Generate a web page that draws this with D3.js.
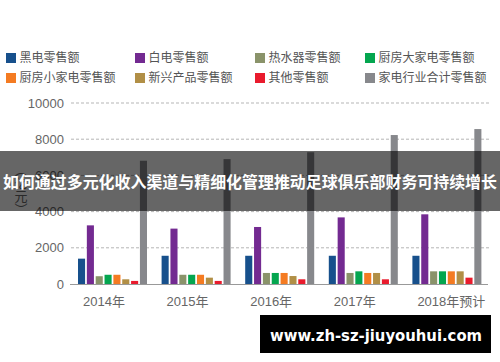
<!DOCTYPE html>
<html>
<head>
<meta charset="utf-8">
<script src="https://cdn.jsdelivr.net/npm/d3@7"></script>
<style>
  body { margin: 0; background: #fff; }
  svg { display: block; font-family: "Liberation Sans", "Noto Sans CJK SC", sans-serif; }
</style>
</head>
<body>
<div id="chart"></div>
<script>
// categories on the x axis
const years = ['2014年', '2015年', '2016年', '2017年', '2018年预计']

// series names (legend order)
const seriesNames = ['黑电零售额', '白电零售额', '热水器零售额', '厨房大家电零售额',
    '厨房小家电零售额', '新兴产品零售额', '其他零售额', '家电行业合计零售额']

// values per series, in 亿元, one per year
const blackAppliances = [1400, 1560, 1560, 1560, 1560]
const whiteAppliances = [3240, 3060, 3150, 3680, 3850]
const waterHeaters = [430, 510, 610, 610, 700]
const kitchenLarge = [510, 510, 610, 700, 700]
const kitchenSmall = [510, 510, 610, 610, 700]
const emerging = [260, 350, 440, 610, 700]
const others = [170, 170, 260, 260, 350]
const industryTotal = [6810, 6900, 7280, 8230, 8560]

const seriesValues = [blackAppliances, whiteAppliances, waterHeaters, kitchenLarge,
    kitchenSmall, emerging, others, industryTotal]

const yTicks = [0, 2000, 4000, 6000, 8000, 10000]

const colors = ['#17508c', '#732a91', '#8a936a', '#04a64f', '#f47b22', '#b18f46', '#e91b2d', '#87888c']

const width = 500
const height = 362

const svg = d3.select('#chart')
    .append('svg')
    .attr('width', width)
    .attr('height', height)

// legend, 4 columns x 2 rows
const legendCols = [6, 135, 255, 365]
const legend = svg.selectAll('g.legend')
    .data(seriesNames)
    .enter()
    .append('g')
    .attr('class', 'legend')
    .attr('transform', (d, i) => `translate(${legendCols[i % 4]}, ${53 + Math.floor(i / 4) * 20})`)

legend.append('rect')
    .attr('width', 10)
    .attr('height', 10)
    .style('fill', (d, i) => colors[i])

legend.append('text')
    .attr('x', 13.5)
    .attr('y', 5)
    .attr('dominant-baseline', 'central')
    .style('font-size', '12px')
    .style('fill', '#555')
    .text(d => d)

// scales
const x0 = d3.scaleBand()
    .domain(years)
    .range([70, 488])

const x1 = d3.scaleBand()
    .domain(seriesNames)
    .range([8, 77])
    .paddingInner(0.2)

const y = d3.scaleLinear()
    .domain([0, 10000])
    .range([284, 103])

// grid lines
svg.selectAll('line.grid')
    .data(yTicks.filter(t => t > 0))
    .enter()
    .append('line')
    .attr('class', 'grid')
    .attr('x1', 71)
    .attr('x2', 490)
    .attr('y1', d => y(d))
    .attr('y2', d => y(d))
    .style('stroke', '#b5b5b5')
    .style('stroke-width', 1)
    .style('stroke-dasharray', '3,2')

// y tick labels
svg.selectAll('text.ytick')
    .data(yTicks)
    .enter()
    .append('text')
    .attr('class', 'ytick')
    .attr('x', 64)
    .attr('y', d => y(d))
    .attr('text-anchor', 'end')
    .attr('dominant-baseline', 'central')
    .style('font-size', '13px')
    .style('fill', '#666')
    .text(d => d)

// y axis unit, vertical
svg.append('text')
    .attr('x', 20)
    .attr('y', 190)
    .attr('text-anchor', 'middle')
    .style('writing-mode', 'vertical-rl')
    .style('font-size', '13px')
    .style('fill', '#666')
    .text('（亿元）')

// bars
const groups = svg.selectAll('g.year')
    .data(years)
    .enter()
    .append('g')
    .attr('class', 'year')
    .attr('transform', d => `translate(${x0(d)}, 0)`)

groups.selectAll('rect')
    .data((d, yi) => seriesNames.map((name, si) => ({name, si, value: seriesValues[si][yi]})))
    .enter()
    .append('rect')
    .attr('x', d => x1(d.name))
    .attr('y', d => y(d.value))
    .attr('width', x1.bandwidth())
    .attr('height', d => y(0) - y(d.value))
    .style('fill', d => colors[d.si])

// baseline
svg.append('line')
    .attr('x1', 70)
    .attr('x2', 488)
    .attr('y1', y(0) + 0.5)
    .attr('y2', y(0) + 0.5)
    .style('stroke', '#999')
    .style('stroke-width', 1)

// x labels
svg.selectAll('text.xlabel')
    .data(years)
    .enter()
    .append('text')
    .attr('class', 'xlabel')
    .attr('x', d => x0(d) + 13)
    .attr('y', 301)
    .attr('dominant-baseline', 'central')
    .style('font-size', '13px')
    .style('fill', '#666')
    .text(d => d)

// banner overlay
svg.append('rect')
    .attr('x', 0)
    .attr('y', 151)
    .attr('width', width)
    .attr('height', 60)
    .style('fill', '#000')
    .style('opacity', 0.6)

svg.append('text')
    .attr('x', width / 2)
    .attr('y', 181)
    .attr('text-anchor', 'middle')
    .attr('dominant-baseline', 'central')
    .attr('textLength', 494)
    .attr('lengthAdjust', 'spacingAndGlyphs')
    .style('font-family', '"Noto Sans CJK SC", sans-serif')
    .style('font-weight', 'bold')
    .style('font-size', '16px')
    .style('fill', '#fff')
    .text('如何通过多元化收入渠道与精细化管理推动足球俱乐部财务可持续增长')

// watermark
svg.append('rect')
    .attr('x', 260)
    .attr('y', 315)
    .attr('width', 231)
    .attr('height', 38)
    .style('fill', '#000')

svg.append('text')
    .attr('x', 376)
    .attr('y', 336)
    .attr('text-anchor', 'middle')
    .attr('dominant-baseline', 'central')
    .attr('textLength', 212)
    .attr('lengthAdjust', 'spacingAndGlyphs')
    .style('font-family', '"DejaVu Sans", sans-serif')
    .style('font-weight', 'bold')
    .style('font-size', '15px')
    .style('fill', '#fff')
    .text('www.zh-sz-jiuyouhui.com')
</script>
</body>
</html>
